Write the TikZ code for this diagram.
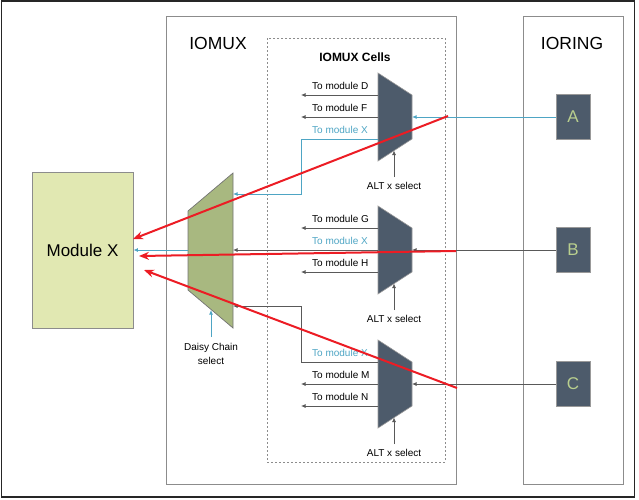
\documentclass[tikz,border=0pt]{standalone}
\usepackage{fontspec}
\setmainfont{Liberation Sans}
\usetikzlibrary{arrows.meta}
\definecolor{muxgrey}{HTML}{4D5B6B}
\definecolor{muxgreen}{HTML}{A8B880}
\definecolor{modfill}{HTML}{E1E8B2}
\definecolor{sigblue}{HTML}{4EA5C4}
\definecolor{padtext}{HTML}{B9CF8E}
\definecolor{hotred}{HTML}{EC1C24}

\begin{document}
\begin{tikzpicture}[x=1pt, y=-1pt,
    box/.style={draw=black!45, line width=0.9pt},
    lbl/.style={font=\fontsize{10}{12}\selectfont, inner sep=0pt},
    big/.style={font=\fontsize{17.5}{20}\selectfont, inner sep=0pt},
    sig/.style={draw=black!65, line width=0.8pt, -{Latex[length=4.5pt,width=4pt]}},
    bsig/.style={draw=sigblue, line width=0.9pt, -{Latex[length=4.5pt,width=4pt]}},
    route/.style={draw=hotred, line width=2pt, -{Stealth[length=10pt,width=8pt]}},
    pad/.style={draw=black!40, line width=0.8pt, fill=muxgrey, minimum width=34pt,
        minimum height=45pt, inner sep=0pt, text=padtext, font=\fontsize{17}{20}\selectfont}]
    \useasboundingbox (0, 0) rectangle (639, 499);
    % Frame
    \draw [line width=1.6pt, black!85] (1.5, 1) rectangle (634.5, 497);
    % Blocks
    \draw [box] (166, 16) rectangle (456, 484);
    \draw [box] (523, 16) rectangle (623, 484);
    \draw [black!45, line width=0.9pt, dash pattern=on 2pt off 2pt] (267, 38) rectangle (445, 462);
    \node [big] (iomux) at (218, 43) {IOMUX};
    \node [big] (ioring) at (572, 43) {IORING};
    \node [inner sep=0pt, font=\bfseries\fontsize{12}{14}\selectfont] (cells) at (355, 57) {IOMUX Cells};
    % Module X
    \node [box, fill=modfill, minimum width=101pt, minimum height=156pt, inner sep=0pt,
        font=\fontsize{17}{20}\selectfont] (modx) at (82.5, 250) {Module X};
    % Pads
    \node [pad] (padA) at (573, 117) {A};
    \node [pad] (padB) at (573, 250) {B};
    \node [pad] (padC) at (573, 384) {C};
    % Daisy chain mux
    \draw [fill=muxgreen, draw=black!55, line width=0.7pt] (188, 211) -- (233, 173) -- (233, 328) -- (188, 290) -- cycle;
    \coordinate (dcout) at (188, 250);
    \coordinate (dcinA) at (233, 194);
    \coordinate (dcinB) at (233, 250);
    \coordinate (dcinC) at (233, 306);
    \coordinate (dcsel) at (211, 310);
    \draw [bsig] (dcout) -- (modx.east |- dcout);
    \draw [bsig] (211, 337) coordinate (dcfoot) -- (dcsel);
    \node [lbl, align=center] (dclbl) at (211, 354) {Daisy Chain\\[1.5pt]select};
    % IOMUX cells
    \foreach \n/\c in {1/117, 2/250, 3/384} {
        \draw [fill=muxgrey, draw=black!40, line width=0.6pt] (378, \c-44) -- (412, \c-22) -- (412, \c+22) -- (378, \c+44) -- cycle;
        \coordinate (in\n) at (412, \c);
        \coordinate (sel\n) at (394, \c+33.5);
        \coordinate (outa\n) at (378, \c-22);
        \coordinate (outb\n) at (378, \c);
        \coordinate (outc\n) at (378, \c+22);
        \draw [sig] (394, \c+60) coordinate (foot\n) -- (sel\n);
        \node [lbl] (alt\n) at (394, \c+69) {ALT x select};
    }
    % Outputs to other modules
    \node [lbl, anchor=west] (tD) at (312, 86) {To module D};
    \node [lbl, anchor=west] (tF) at (312, 108) {To module F};
    \node [lbl, anchor=west, text=sigblue] (tX1) at (312, 130) {To module X};
    \node [lbl, anchor=west] (tG) at (312, 219) {To module G};
    \node [lbl, anchor=west, text=sigblue] (tX2) at (312, 241) {To module X};
    \node [lbl, anchor=west] (tH) at (312, 263) {To module H};
    \node [lbl, anchor=west, text=sigblue] (tX3) at (312, 353) {To module X};
    \node [lbl, anchor=west] (tM) at (312, 375) {To module M};
    \node [lbl, anchor=west] (tN) at (312, 397) {To module N};
    \draw [sig] (outa1) -- (301, 95);
    \draw [sig] (outb1) -- (301, 117);
    \draw [sig] (outa2) -- (301, 228);
    \draw [sig] (outc2) -- (301, 272);
    \draw [sig] (outb3) -- (301, 384);
    \draw [sig] (outc3) -- (301, 406);
    % Routes to the daisy chain
    \draw [bsig] (outc1) -| (301, 194) -- (dcinA);
    \draw [sig] (outb2) -- (dcinB);
    \draw [sig] (outa3) -| (301, 306) -- (dcinC);
    % Pad inputs
    \draw [bsig] (padA.west) -- (in1);
    \draw [sig] (padB.west) -- (in2);
    \draw [sig] (padC.west) -- (in3);
    % Red paths
    \draw [route] (448, 116) coordinate (rA) -- (133, 239);
    \draw [route] (456, 251) coordinate (rB) -- (139, 256);
    \draw [route] (457, 388) coordinate (rC) -- (144, 270);
\end{tikzpicture}
\end{document}
